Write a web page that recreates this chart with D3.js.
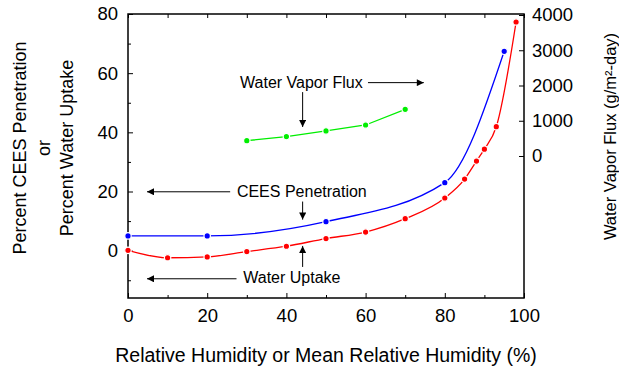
<!DOCTYPE html>
<html>
<head>
<meta charset="utf-8">
<script src="https://cdn.jsdelivr.net/npm/d3@7"></script>
<style>
  body { margin: 0; background: #fff; }
  text { font-family: "Liberation Sans", Arial, sans-serif; fill: #000; }
</style>
</head>
<body>
<script>
// data
const rhCees = [0, 20, 50, 80, 95];
const ceesPenetration = [5, 5, 9.8, 23, 67.4];

const rhUptake = [0, 10, 20, 30, 40, 50, 60, 70, 80, 85, 88, 90, 93, 98];
const waterUptake = [0.1, -2.4, -2.1, -0.3, 1.5, 4.1, 6.3, 10.8, 17.8, 24.2, 30.3, 34.3, 41.9, 77.3];

const rhFlux = [30, 40, 50, 60, 70];
const vaporFlux = [435, 550, 710, 880, 1325];

const xTicks = [0, 20, 40, 60, 80, 100];
const yTicks = [0, 20, 40, 60, 80];
const y2Ticks = [0, 1000, 2000, 3000, 4000];

const W = 619, H = 368;
const pLeft = 128, pRight = 524, pTop = 14, pBottom = 298;

const svg = d3.select('body').append('svg')
  .attr('width', W)
  .attr('height', H);

const x = d3.scaleLinear().domain([0, 100]).range([pLeft, pRight]);
const y = d3.scaleLinear().domain([-16, 80]).range([pBottom, pTop]);
const y2 = d3.scaleLinear().domain([0, 4000]).range([156, 15]);

// axes (ticks point inward)
function styleAxis(g, size) {
  g.select('.domain').remove();
  g.selectAll('line').attr('stroke', '#000').attr('stroke-width', 1);
  g.selectAll('text').attr('font-size', size).attr('font-family', '"Liberation Sans", Arial, sans-serif').attr('fill', '#000');
}

// bottom
svg.append('g').attr('transform', `translate(0,${pBottom})`)
  .call(d3.axisBottom(x).tickValues(xTicks).tickSizeInner(-5).tickSizeOuter(0).tickPadding(11))
  .call(g => styleAxis(g, 18.5));
svg.append('g').attr('transform', `translate(0,${pBottom})`)
  .call(d3.axisBottom(x).tickValues(d3.range(10, 100, 20)).tickSizeInner(-3).tickSizeOuter(0).tickFormat(''))
  .call(g => styleAxis(g, 0));
// top
svg.append('g').attr('transform', `translate(0,${pTop})`)
  .call(d3.axisTop(x).tickValues(d3.range(0, 101, 10)).tickSizeInner(-4).tickSizeOuter(0).tickFormat(''))
  .call(g => styleAxis(g, 0));
// left
svg.append('g').attr('transform', `translate(${pLeft},0)`)
  .call(d3.axisLeft(y).tickValues(yTicks).tickSizeInner(-5).tickSizeOuter(0).tickPadding(10))
  .call(g => styleAxis(g, 18.5));
svg.append('g').attr('transform', `translate(${pLeft},0)`)
  .call(d3.axisLeft(y).tickValues([-10, 10, 30, 50, 70]).tickSizeInner(-3).tickSizeOuter(0).tickFormat(''))
  .call(g => styleAxis(g, 0));
// right
svg.append('g').attr('transform', `translate(${pRight},0)`)
  .call(d3.axisRight(y2).tickValues(y2Ticks).tickSizeInner(-5).tickSizeOuter(0).tickPadding(8).tickFormat(d3.format('d')))
  .call(g => styleAxis(g, 18.5));

// frame
svg.append('rect')
  .attr('x', pLeft).attr('y', pTop)
  .attr('width', pRight - pLeft).attr('height', pBottom - pTop)
  .attr('fill', 'none').attr('stroke', '#000').attr('stroke-width', 1.5);

// series
function series(xs, ys, ys2, color, curve) {
  const pts = xs.map((d, i) => [d, ys[i]]);
  const line = d3.line().x(d => x(d[0])).y(d => ys2(d[1])).curve(curve);
  svg.append('path').datum(pts)
    .attr('d', line)
    .attr('fill', 'none')
    .attr('stroke', color)
    .attr('stroke-width', 1.3);
  svg.append('g').selectAll('circle')
    .data(pts)
    .enter().append('circle')
    .attr('cx', d => x(d[0]))
    .attr('cy', d => ys2(d[1]))
    .attr('r', 3.2)
    .attr('fill', color)
    .attr('stroke', '#fff')
    .attr('stroke-width', 1.2);
}

series(rhFlux, vaporFlux, y2, '#00ee00', d3.curveLinear);
series(rhCees, ceesPenetration, y, '#0000ff', d3.curveMonotoneX);
series(rhUptake, waterUptake, y, '#ff0000', d3.curveMonotoneX);

// annotations with arrows
const defs = svg.append('defs');
defs.append('marker')
  .attr('id', 'head')
  .attr('viewBox', '0 0 10 10')
  .attr('refX', 10).attr('refY', 5)
  .attr('markerWidth', 9).attr('markerHeight', 7)
  .attr('markerUnits', 'userSpaceOnUse')
  .attr('orient', 'auto')
  .append('path').attr('d', 'M0,0L10,5L0,10z').attr('fill', '#000');

const labels = [
  { text: 'Water Vapor Flux', x: 28.3, y: 55.0 },
  { text: 'CEES Penetration', x: 27.5, y: 18.2 },
  { text: 'Water Uptake', x: 29.1, y: -11.0 }
];
const arrows = [
  { x1: 60.6, y1: 56.8, x2: 74.7, y2: 56.8 },
  { x1: 44.1, y1: 53.6, x2: 44.1, y2: 41.8 },
  { x1: 25.8, y1: 19.9, x2: 4.8, y2: 19.9 },
  { x1: 44.1, y1: 16.6, x2: 44.1, y2: 10.5 },
  { x1: 27.4, y1: -9.5, x2: 4.8, y2: -9.5 },
  { x1: 44.1, y1: -5.5, x2: 44.1, y2: 1.6 }
];

svg.selectAll('.lbl')
  .data(labels)
  .enter().append('text')
  .attr('class', 'lbl')
  .attr('x', d => x(d.x))
  .attr('y', d => y(d.y))
  .attr('font-size', 16)
  .text(d => d.text);

svg.selectAll('.arr')
  .data(arrows)
  .enter().append('line')
  .attr('class', 'arr')
  .attr('x1', d => x(d.x1)).attr('y1', d => y(d.y1))
  .attr('x2', d => x(d.x2)).attr('y2', d => y(d.y2))
  .attr('stroke', '#000').attr('stroke-width', 1)
  .attr('marker-end', 'url(#head)');

// axis titles
svg.append('text')
  .attr('x', (pLeft + pRight) / 2)
  .attr('y', 362)
  .attr('text-anchor', 'middle')
  .attr('font-size', 19.5)
  .text('Relative Humidity or Mean Relative Humidity (%)');

const yTitle = svg.append('text')
  .attr('transform', 'translate(0,148) rotate(-90)')
  .attr('text-anchor', 'middle')
  .attr('font-size', 18);
yTitle.append('tspan').attr('x', 0).attr('y', 26).text('Percent CEES Penetration');
yTitle.append('tspan').attr('x', 0).attr('y', 49.5).text('or');
yTitle.append('tspan').attr('x', 0).attr('y', 73).text('Percent Water Uptake');

svg.append('text')
  .attr('transform', 'translate(615.5,136.5) rotate(-90)')
  .attr('text-anchor', 'middle')
  .attr('font-size', 16.5)
  .text('Water Vapor Flux (g/m²-day)');
</script>
</body>
</html>
